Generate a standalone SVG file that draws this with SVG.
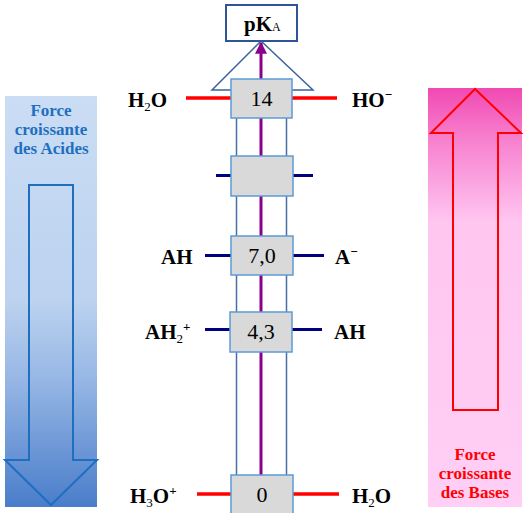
<svg xmlns="http://www.w3.org/2000/svg" width="529" height="513" viewBox="0 0 529 513">
<defs>
<linearGradient id="gBlue" x1="0" y1="0" x2="0" y2="1">
<stop offset="0" stop-color="#CADDF4"/>
<stop offset="0.5" stop-color="#BCD2EF"/>
<stop offset="0.7" stop-color="#94B5E4"/>
<stop offset="1" stop-color="#4A7DCA"/>
</linearGradient>
<linearGradient id="gPink" x1="0" y1="0" x2="0" y2="1">
<stop offset="0" stop-color="#F04AB2"/>
<stop offset="0.12" stop-color="#F77FCE"/>
<stop offset="0.32" stop-color="#FFC6F0"/>
<stop offset="1" stop-color="#FFCFF6"/>
</linearGradient>
<marker id="ah" viewBox="0 0 10 10" refX="9" refY="5" markerWidth="4" markerHeight="4" orient="auto">
<path d="M0,0 L10,5 L0,10 z" fill="#8B008B"/>
</marker>
<style>
.lbl{font-family:"Liberation Serif","Times New Roman",serif;font-weight:bold;font-size:21px;fill:#000}
.num{font-family:"Liberation Serif","Times New Roman",serif;font-size:22px;fill:#000;text-anchor:middle}
.box{fill:#D9D9D9;stroke:#5B9BD5;stroke-width:1.5}
.tube{stroke:#4A6FA5;stroke-width:1.5;fill:none}
.red{stroke:#FF0000;stroke-width:3.5}
.navy{stroke:#000080;stroke-width:3}
.side{font-family:"Liberation Serif","Times New Roman",serif;font-weight:bold;font-size:17px;text-anchor:middle}
</style>
</defs>

<g id="acid-panel">
<rect x="5" y="96" width="92" height="411" fill="url(#gBlue)"/>
<text class="side" fill="#1F6FC0"><tspan x="51" y="116">Force</tspan><tspan x="51" y="135">croissante</tspan><tspan x="51" y="154">des Acides</tspan></text>
<path d="M29,185 H73 V460 H97 L51,505 L5,460 H29 Z" fill="none" stroke="#1F6FC0" stroke-width="2"/>
</g>

<g id="base-panel">
<rect x="428" y="88" width="94" height="419" fill="url(#gPink)"/>
<path d="M475,89 L521,133 H498 V410 H453 V133 H431 Z" fill="none" stroke="#FF0000" stroke-width="2"/>
<text class="side" fill="#FF0000"><tspan x="475" y="460">Force</tspan><tspan x="475" y="479">croissante</tspan><tspan x="475" y="498">des Bases</tspan></text>
</g>

<g id="connectors">
<line class="tube" x1="236.5" y1="118" x2="236.5" y2="475"/>
<line class="tube" x1="286.5" y1="118" x2="286.5" y2="475"/>
<polygon points="261,41 212,90 313,90" fill="#FFFFFF" stroke="#3A63A0" stroke-width="1.5"/>
<line x1="261" y1="475" x2="261" y2="43" stroke="#8B008B" stroke-width="3" marker-end="url(#ah)"/>
<line class="red" x1="186" y1="98" x2="231" y2="98"/>
<line class="red" x1="292" y1="98" x2="337" y2="98"/>
<line class="navy" x1="216" y1="175.5" x2="231" y2="175.5"/>
<line class="navy" x1="293" y1="175.5" x2="313" y2="175.5"/>
<line class="navy" x1="205" y1="255.5" x2="231" y2="255.5"/>
<line class="navy" x1="293" y1="255.5" x2="324" y2="255.5"/>
<line class="navy" x1="205" y1="329.5" x2="230" y2="329.5"/>
<line class="navy" x1="292" y1="329.5" x2="322" y2="329.5"/>
<line class="red" x1="197" y1="494" x2="231" y2="494"/>
<line class="red" x1="293" y1="494" x2="339" y2="494"/>
</g>

<g id="pKA">
<rect x="226" y="5" width="71" height="36" fill="#FFFFFF" stroke="#2F5597" stroke-width="2"/>
<text class="lbl" x="244" y="31" font-size="20">pK<tspan font-size="12" font-weight="normal">A</tspan></text>
</g>

<g id="level-14">
<rect class="box" x="231" y="79" width="61" height="39"/>
<text class="num" x="261.5" y="106">14</text>
<text class="lbl" x="128" y="107">H<tspan font-size="13" font-weight="normal" dy="4">2</tspan><tspan dy="-4">O</tspan></text>
<text class="lbl" x="352" y="107">HO<tspan font-size="13" dy="-8">−</tspan></text>
</g>

<g id="level-empty">
<rect class="box" x="231" y="156" width="62" height="40"/>
</g>

<g id="level-7">
<rect class="box" x="231" y="236" width="62" height="39"/>
<text class="num" x="262" y="263">7,0</text>
<text class="lbl" x="161" y="264">AH</text>
<text class="lbl" x="335" y="264">A<tspan font-size="13" dy="-8">−</tspan></text>
</g>

<g id="level-4">
<rect class="box" x="230" y="312" width="62" height="40"/>
<text class="num" x="261" y="339">4,3</text>
<text class="lbl" x="145" y="339">AH<tspan font-size="13" font-weight="normal" dy="4">2</tspan><tspan font-size="13" dy="-12">+</tspan></text>
<text class="lbl" x="334" y="339">AH</text>
</g>

<g id="level-0">
<rect class="box" x="231" y="475" width="62" height="42"/>
<text class="num" x="262" y="502">0</text>
<text class="lbl" x="130" y="503">H<tspan font-size="13" font-weight="normal" dy="4">3</tspan><tspan dy="-4">O</tspan><tspan font-size="13" dy="-8">+</tspan></text>
<text class="lbl" x="352" y="503">H<tspan font-size="13" font-weight="normal" dy="4">2</tspan><tspan dy="-4">O</tspan></text>
</g>
</svg>
